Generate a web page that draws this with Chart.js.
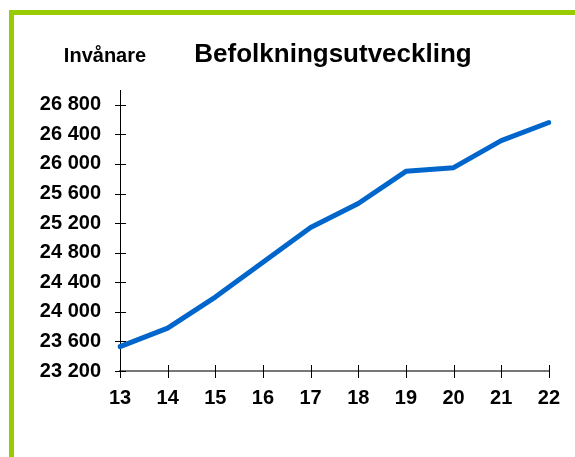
<!DOCTYPE html>
<html>
<head>
<meta charset="utf-8">
<script src="https://cdn.jsdelivr.net/npm/chart.js@4"></script>
<style>
  body { margin: 0; background: #fff; }
  #frame { position: absolute; left: 9px; top: 10px; right: 0; bottom: 0;
           border-left: 5px solid #99cc00; border-top: 5px solid #99cc00; }
  #pop { position: absolute; left: 0; top: 0; }
</style>
</head>
<body>
<div id="frame"></div>
<canvas id="pop" width="575" height="457"></canvas>
<script>
// years (last two digits) and population
var years = ['13', '14', '15', '16', '17', '18', '19', '20', '21', '22'];
var population = [23530, 23780, 24200, 24670, 25140, 25465, 25900, 25950, 26315, 26560];
var yMin = 23200;
var yMax = 27000;
var yStep = 400;

var titleText = 'Befolkningsutveckling';
var unitText = 'Invånare';

function spaced(v)
{
    return v.toString().replace(/\B(?=(\d{3})+(?!\d))/g, ' ');
}

// ticks that cross the axis lines, plus the two headings
var crossTicks = {
    id: 'crossTicks',
    afterDraw: function (chart) {
        var ctx = chart.ctx;
        var xs = chart.scales.x, ys = chart.scales.y;
        var ax = ys.left + ys.width, ay = xs.top;
        ctx.save();
        ctx.strokeStyle = '#000';
        ctx.lineWidth = 1;
        ys.ticks.forEach(function (t) {
            var y = Math.round(ys.getPixelForValue(t.value)) + 0.5;
            ctx.beginPath();
            ctx.moveTo(ax - 5, y);
            ctx.lineTo(ax + 6, y);
            ctx.stroke();
        });
        xs.ticks.forEach(function (t, i) {
            var x = Math.round(xs.getPixelForTick(i)) + 0.5;
            ctx.beginPath();
            ctx.moveTo(x, ay - 6);
            ctx.lineTo(x, ay + 7);
            ctx.stroke();
        });
        ctx.fillStyle = '#000';
        ctx.textBaseline = 'alphabetic';
        ctx.textAlign = 'center';
        ctx.font = 'bold 26px "Liberation Sans", Arial, sans-serif';
        ctx.fillText(titleText, 333, 62);
        ctx.font = 'bold 20px "Liberation Sans", Arial, sans-serif';
        ctx.fillText(unitText, 105, 62);
        ctx.restore();
    }
};

var chart = new Chart(document.getElementById('pop'), {
    type: 'line',
    data: {
        labels: years,
        datasets: [{
            data: population,
            borderColor: '#0066cc',
            borderWidth: 5,
            borderJoinStyle: 'round',
            borderCapStyle: 'round',
            tension: 0,
            pointRadius: 0,
            fill: false
        }]
    },
    options: {
        responsive: false,
        animation: false,
        layout: {padding: {left: 0, top: 90, right: 22, bottom: 46}},
        plugins: {
            legend: {display: false},
            title: {display: false},
            tooltip: {enabled: false}
        },
        scales: {
            x: {
                offset: false,
                grid: {display: false, drawTicks: false},
                border: {display: true, color: '#777', width: 2},
                ticks: {
                    color: '#000',
                    padding: 15,
                    maxRotation: 0,
                    font: {family: '"Liberation Sans", Arial, sans-serif', size: 20, weight: 'bold'}
                },
                afterFit: function (s) { s.height = 40; }
            },
            y: {
                min: yMin,
                max: yMax,
                grid: {display: false, drawTicks: false},
                border: {display: true, color: '#000', width: 1},
                ticks: {
                    stepSize: yStep,
                    includeBounds: false,
                    autoSkip: false,
                    color: '#000',
                    padding: 19,
                    font: {family: '"Liberation Sans", Arial, sans-serif', size: 20, weight: 'bold'},
                    callback: function (v) { return spaced(v); }
                },
                afterBuildTicks: function (s) {
                    s.ticks = s.ticks.filter(function (t) { return (t.value - yMin) % yStep === 0; });
                },
                afterFit: function (s) { s.width = 120; }
            }
        }
    },
    plugins: [crossTicks]
});
</script>
</body>
</html>
